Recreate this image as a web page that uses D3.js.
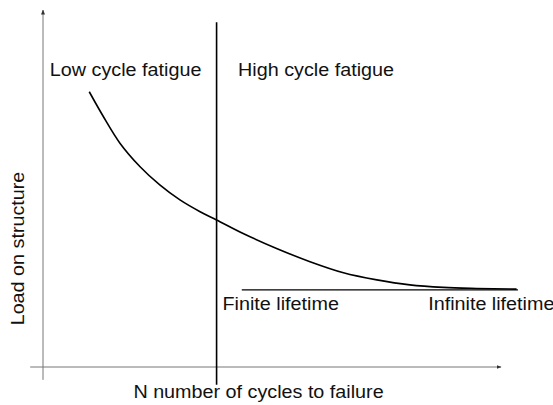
<!DOCTYPE html>
<html>
<head>
<meta charset="utf-8">
<script src="https://cdn.jsdelivr.net/npm/d3@7"></script>
<style>
  body { margin: 0; background: #fff; }
  text { font-family: "Liberation Sans", Arial, sans-serif; fill: #111; }
</style>
</head>
<body>
<div id="chart"></div>
<script>
// S-N style curve, arbitrary units (0..10 on both axes)
let curveX = [1.01, 1.32, 1.68, 2.12, 2.55, 2.99, 3.43, 3.79, 4.37, 5.10, 5.83, 6.56, 7.29, 8.01, 8.74, 9.47, 10.34];
let curveY = [7.71, 7.01, 6.27, 5.61, 5.10, 4.68, 4.35, 4.12, 3.74, 3.32, 2.95, 2.64, 2.44, 2.30, 2.23, 2.20, 2.18];

// endurance limit line and the low/high cycle divider
let limitX = [4.34, 10.37];
let limitY = 2.16;
let dividerX = 3.79;
let dividerY = [-0.50, 9.66];

let labels = [
    { text: "Low cycle fatigue", x: 0.15, y: 8.16 },
    { text: "High cycle fatigue", x: 4.26, y: 8.16 },
    { text: "Finite lifetime", x: 3.92, y: 1.60 },
    { text: "Infinite lifetime", x: 8.41, y: 1.60 }
];
let xTitle = "N number of cycles to failure";
let yTitle = "Load on structure";

let width = 553;
let height = 405;
let fontSize = 18.3;
let stretch = 1.08;   // reference glyphs run a bit wider than Liberation

let svg = d3.select("#chart").append("svg")
    .attr("width", width)
    .attr("height", height);

let x = d3.scaleLinear().domain([0, 10]).range([43, 501]);
let y = d3.scaleLinear().domain([0, 10]).range([367, 10]);

let defs = svg.append("defs");
defs.append("marker")
    .attr("id", "arrow")
    .attr("viewBox", "0 0 10 10")
    .attr("refX", 9)
    .attr("refY", 5)
    .attr("markerWidth", 5)
    .attr("markerHeight", 5)
    .attr("orient", "auto")
    .append("path")
    .attr("d", "M0,1 L10,5 L0,9 Z")
    .attr("fill", "#333");

let axisColor = "#777";

// x axis
svg.append("line")
    .attr("x1", x(-0.28)).attr("x2", x(10))
    .attr("y1", y(0)).attr("y2", y(0))
    .attr("stroke", axisColor)
    .attr("stroke-width", 1)
    .attr("marker-end", "url(#arrow)");

// y axis
svg.append("line")
    .attr("x1", x(0)).attr("x2", x(0))
    .attr("y1", y(-0.36)).attr("y2", y(10))
    .attr("stroke", axisColor)
    .attr("stroke-width", 1)
    .attr("marker-end", "url(#arrow)");

// divider
svg.append("line")
    .attr("x1", x(dividerX)).attr("x2", x(dividerX))
    .attr("y1", y(dividerY[0])).attr("y2", y(dividerY[1]))
    .attr("stroke", "#000")
    .attr("stroke-width", 1.6);

// endurance limit
svg.append("line")
    .attr("x1", x(limitX[0])).attr("x2", x(limitX[1]))
    .attr("y1", y(limitY)).attr("y2", y(limitY))
    .attr("stroke", "#000")
    .attr("stroke-width", 1.2);

let line = d3.line()
    .curve(d3.curveCatmullRom)
    .x(d => x(d[0]))
    .y(d => y(d[1]));

svg.append("path")
    .datum(curveX.map((v, i) => [v, curveY[i]]))
    .attr("d", line)
    .attr("fill", "none")
    .attr("stroke", "#000")
    .attr("stroke-width", 1.6);

function addText(px, py, str, anchor, angle) {
    return svg.append("text")
        .attr("transform", `translate(${px},${py}) rotate(${angle || 0}) scale(${stretch},1)`)
        .attr("text-anchor", anchor || "start")
        .style("font-size", fontSize + "px")
        .text(str);
}

labels.forEach(d => addText(x(d.x), y(d.y), d.text));

addText(258.5, 398, xTitle, "middle");
addText(23.5, 248.5, yTitle, "middle", -90);
</script>
</body>
</html>
